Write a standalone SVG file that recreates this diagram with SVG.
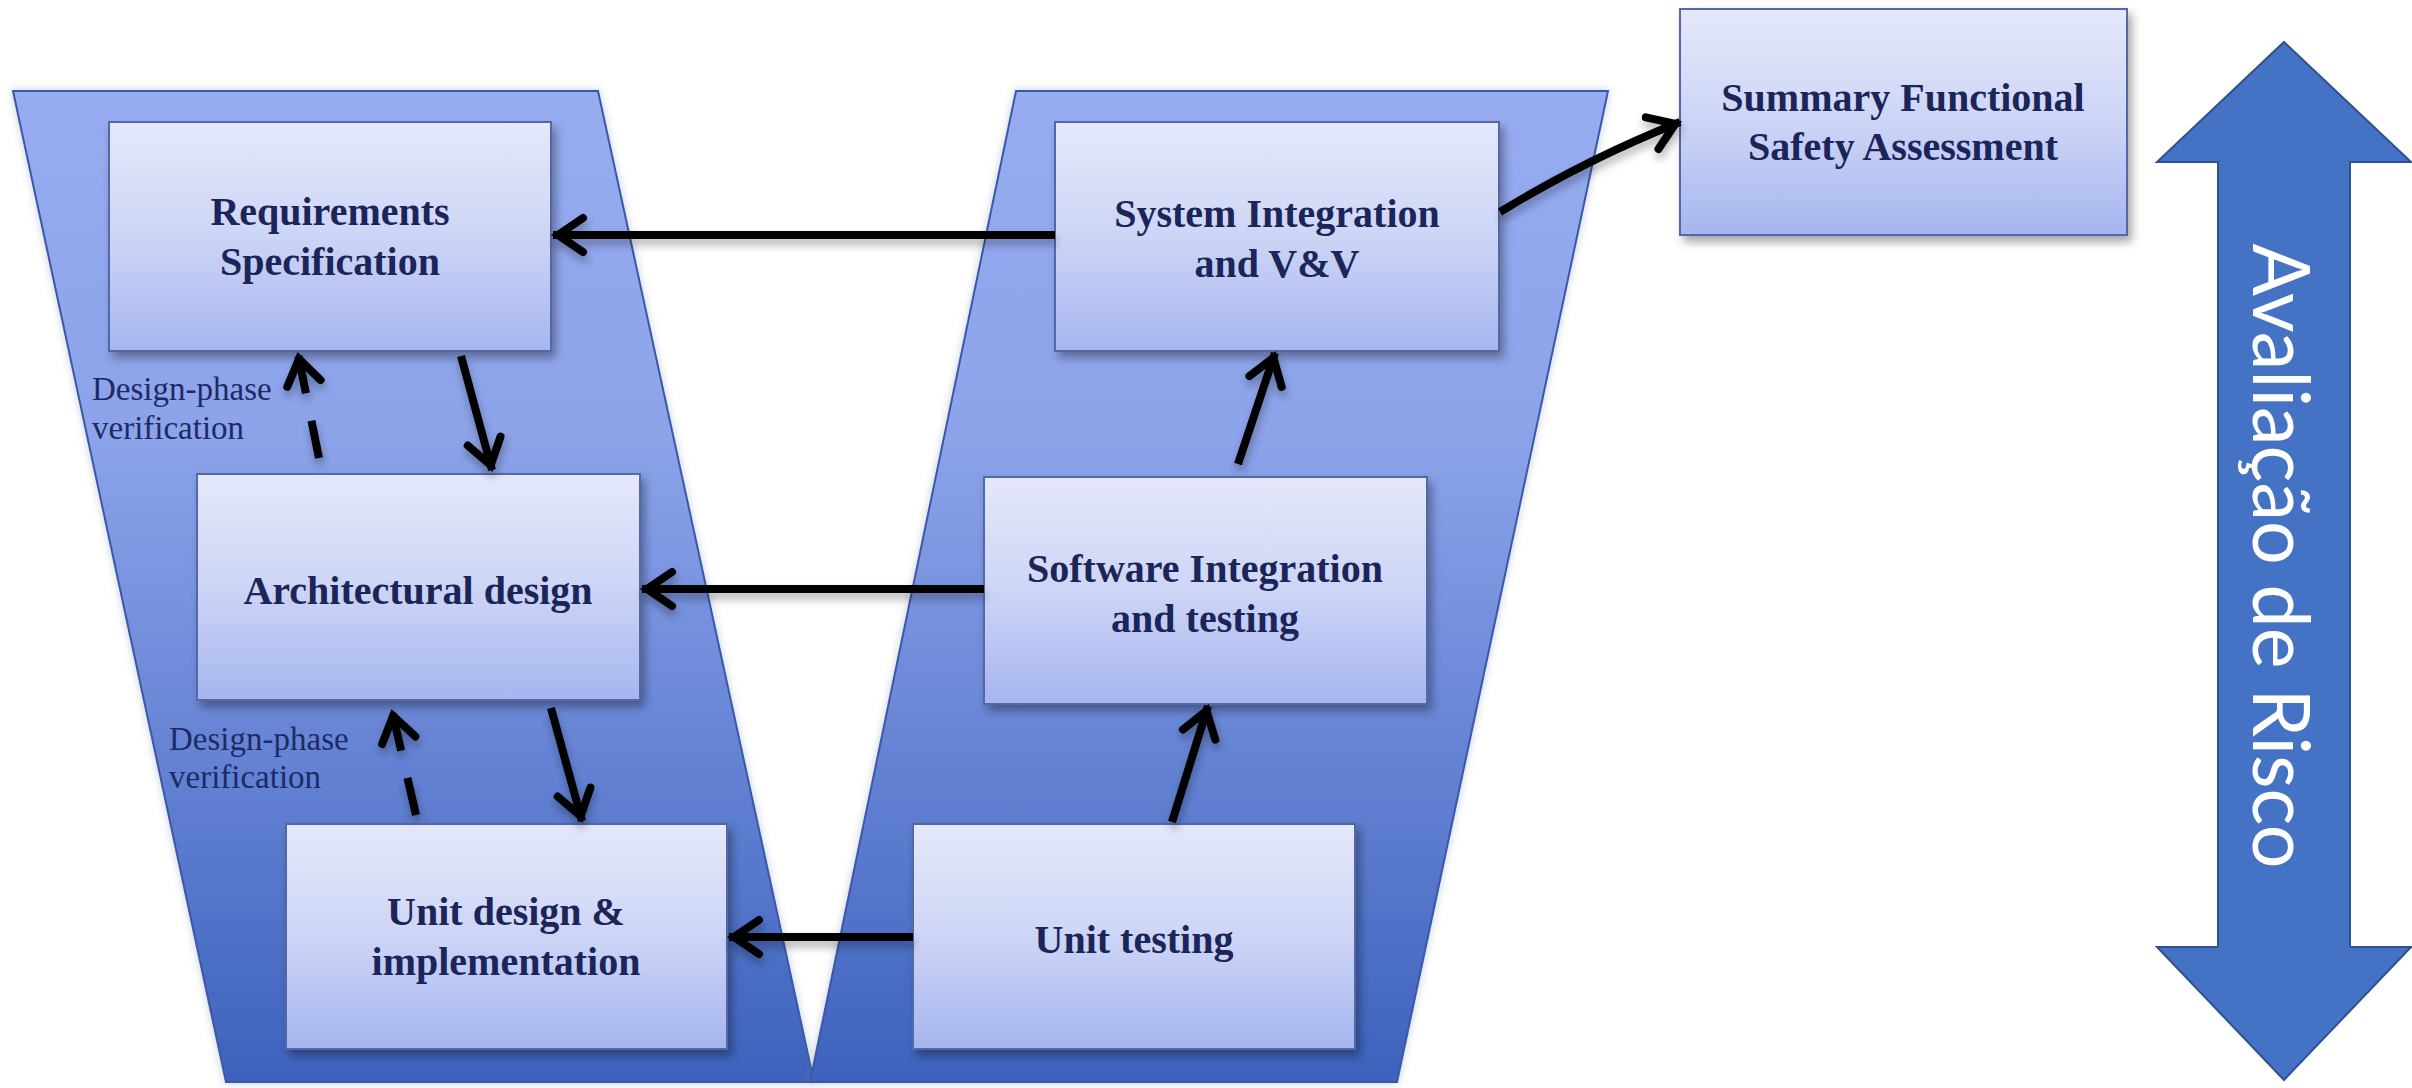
<svg xmlns="http://www.w3.org/2000/svg" width="2412" height="1088" viewBox="0 0 2412 1088">
<defs>
<linearGradient id="gV" gradientUnits="userSpaceOnUse" x1="0" y1="91" x2="0" y2="1082">
<stop offset="0" stop-color="#97acf0"/>
<stop offset="0.35" stop-color="#8ca3ea"/>
<stop offset="1" stop-color="#3d62bd"/>
</linearGradient>
<linearGradient id="gBox" x1="0" y1="0" x2="0" y2="1">
<stop offset="0" stop-color="#e5e8fa"/>
<stop offset="0.5" stop-color="#cdd5f6"/>
<stop offset="1" stop-color="#a6b5ef"/>
</linearGradient>
<filter id="shBox" x="-10%" y="-10%" width="125%" height="130%">
<feDropShadow dx="4" dy="6" stdDeviation="5" flood-color="#000" flood-opacity="0.35"/>
</filter>
<filter id="shLine" x="-20%" y="-50%" width="140%" height="200%">
<feDropShadow dx="1" dy="6" stdDeviation="4" flood-color="#000" flood-opacity="0.3"/>
</filter>
<filter id="glow" x="-5%" y="-5%" width="110%" height="110%">
<feDropShadow dx="0" dy="0" stdDeviation="4" flood-color="#6f7fa8" flood-opacity="0.4"/>
</filter>
<marker id="ah" markerUnits="userSpaceOnUse" viewBox="-45 -30 55 60" markerWidth="55" markerHeight="60" refX="0" refY="0" orient="auto" overflow="visible">
<path d="M-30,-17 L-5,0 L-30,17" fill="none" stroke="#000" stroke-width="8" stroke-linejoin="miter" stroke-miterlimit="10" stroke-linecap="round"/>
</marker>
<style>
.vshape{fill:url(#gV);stroke:#3a58a8;stroke-width:2;filter:url(#glow)}
.box{fill:url(#gBox);stroke:#5367a6;stroke-width:2;filter:url(#shBox)}
.lbl{font-family:"Liberation Serif","Times New Roman",serif;font-weight:bold;font-size:40px;fill:#1b2559;text-anchor:middle}
.note{font-family:"Liberation Serif","Times New Roman",serif;font-size:33px;fill:#1e2a66}
.con{fill:none;stroke:#000;stroke-width:8;marker-end:url(#ah)}
.dash{stroke-dasharray:38 28}
.big{fill:#4472c4;stroke:#2f528f;stroke-width:2}
.risk{font-family:"Lato","Open Sans","Liberation Sans",sans-serif;font-weight:400;font-size:80px;fill:#ffffff;text-anchor:middle}
</style>
</defs>
<rect width="2412" height="1088" fill="#ffffff"/>

<g id="v-left"><polygon class="vshape" points="13,91 598,91 814,1082 226,1082"/></g>
<g id="v-right"><polygon class="vshape" points="1016,91 1608,91 1397,1082 810,1082"/></g>

<g id="requirements">
<rect class="box" x="109" y="122" width="442" height="229"/>
<text class="lbl" x="330" y="225">Requirements</text>
<text class="lbl" x="330" y="275">Specification</text>
</g>
<g id="architectural">
<rect class="box" x="197" y="474" width="443" height="226"/>
<text class="lbl" x="418" y="604">Architectural design</text>
</g>
<g id="unit-design">
<rect class="box" x="286" y="824" width="441" height="225"/>
<text class="lbl" x="506" y="925">Unit design &amp;</text>
<text class="lbl" x="506" y="975">implementation</text>
</g>
<g id="system-integration">
<rect class="box" x="1055" y="122" width="444" height="229"/>
<text class="lbl" x="1277" y="227">System Integration</text>
<text class="lbl" x="1277" y="277">and V&amp;V</text>
</g>
<g id="software-integration">
<rect class="box" x="984" y="477" width="443" height="227"/>
<text class="lbl" x="1205" y="582">Software Integration</text>
<text class="lbl" x="1205" y="632">and testing</text>
</g>
<g id="unit-testing">
<rect class="box" x="913" y="824" width="442" height="225"/>
<text class="lbl" x="1134" y="953">Unit testing</text>
</g>
<g id="summary">
<rect class="box" x="1680" y="9" width="447" height="226"/>
<text class="lbl" x="1903" y="111">Summary Functional</text>
<text class="lbl" x="1903" y="160">Safety Assessment</text>
</g>

<g id="notes">
<text class="note" x="92" y="400">Design-phase</text>
<text class="note" x="92" y="439">verification</text>
<text class="note" x="169" y="750">Design-phase</text>
<text class="note" x="169" y="788">verification</text>
</g>

<g id="connectors" filter="url(#shLine)">
<path class="con" d="M1055,235 L553,235"/>
<path class="con" d="M984,589 L642,589"/>
<path class="con" d="M913,937 L729,937"/>
<path class="con" d="M461,356 L492,470"/>
<path class="con" d="M551,708 L582,821"/>
<path class="con" d="M1172,822 L1208,706"/>
<path class="con" d="M1238,464 L1275,353"/>
<path class="con dash" d="M319,458 L298,354"/>
<path class="con dash" d="M416,815 L392,711"/>
<path class="con" d="M1500,212 Q1585,160 1680,122"/>
</g>

<g id="risk-arrow">
<polygon class="big" points="2284,42 2411,162 2350,162 2350,947 2411,947 2284,1080 2157,947 2218,947 2218,162 2157,162"/>
<text class="risk" transform="translate(2253,556) rotate(90)" textLength="625" lengthAdjust="spacingAndGlyphs">Avaliação de Risco</text>
</g>
</svg>
